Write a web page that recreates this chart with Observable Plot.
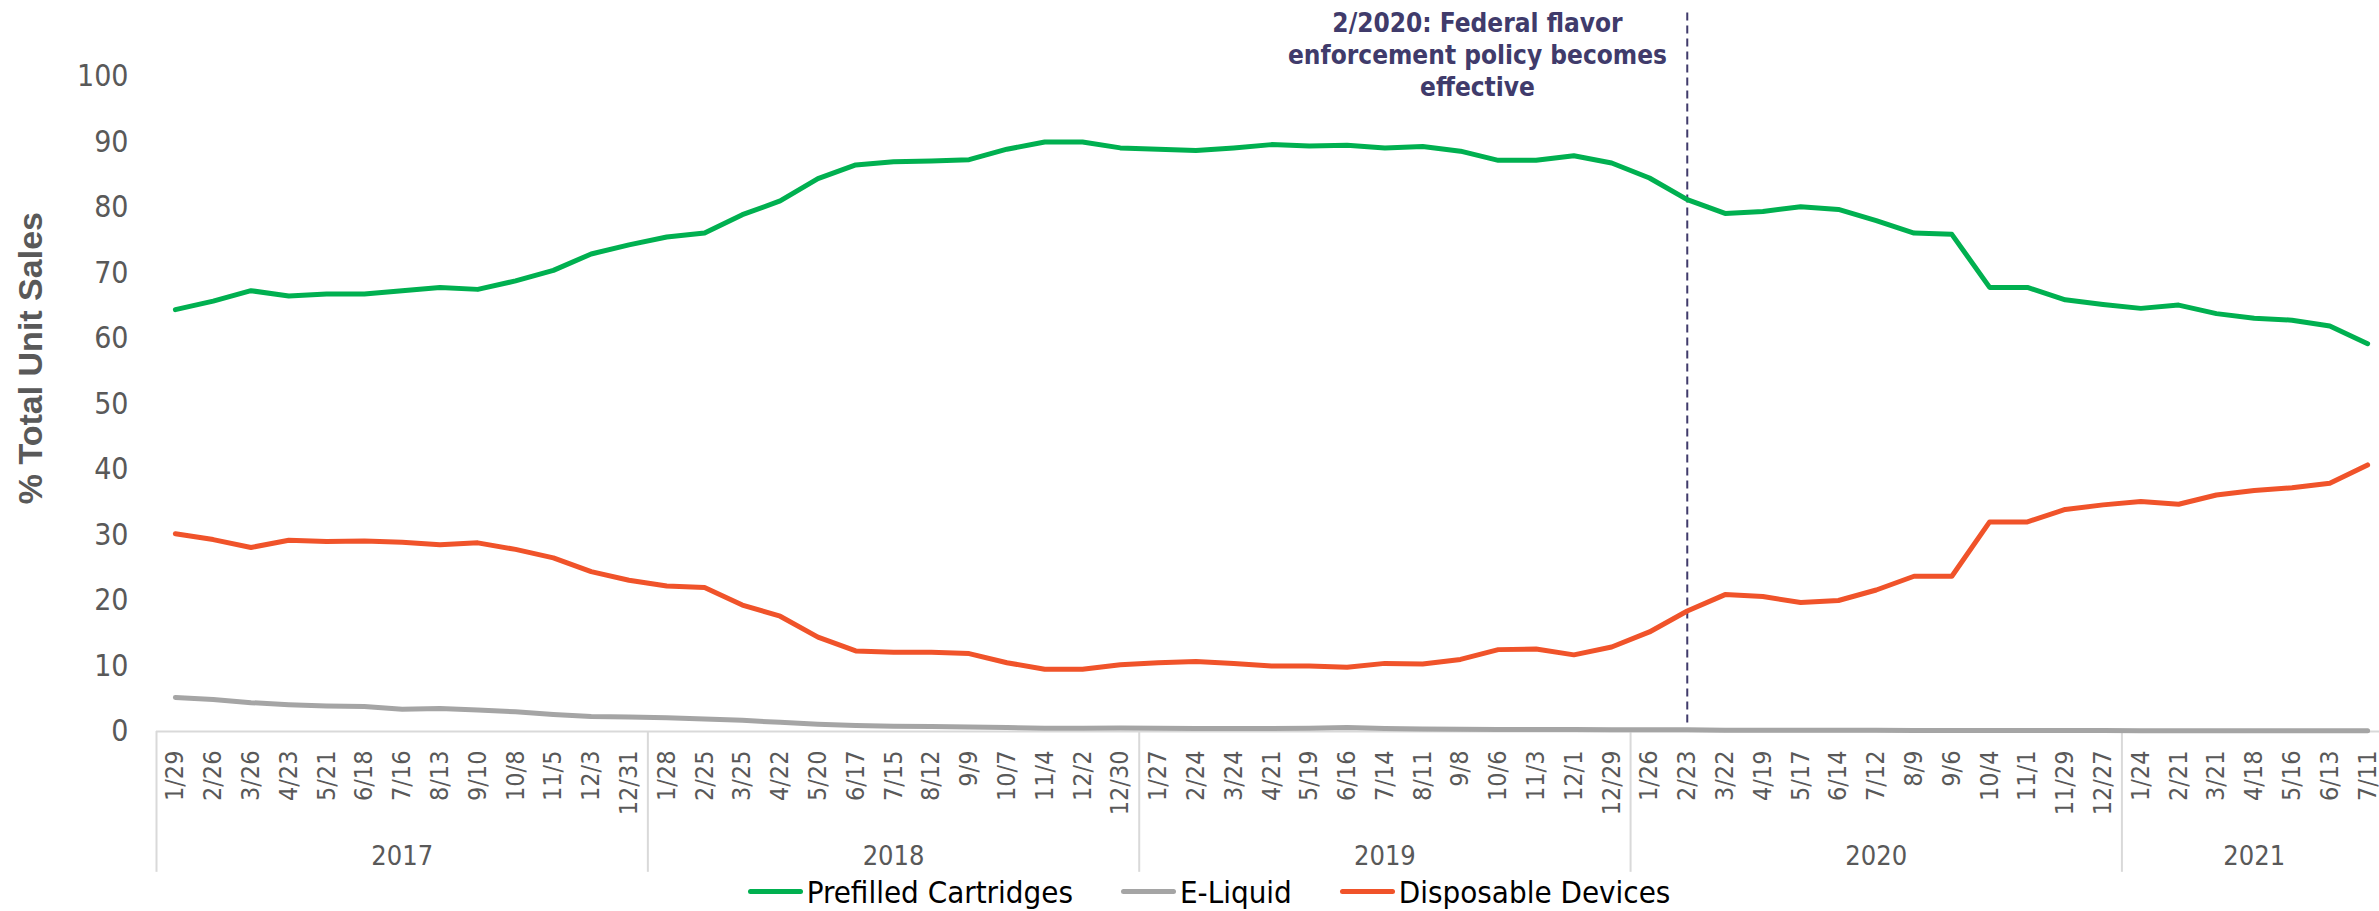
<!DOCTYPE html>
<html>
<head>
<meta charset="utf-8">
<script src="https://cdn.jsdelivr.net/npm/d3@7"></script>
<script src="https://cdn.jsdelivr.net/npm/@observablehq/plot@0.6"></script>
<style>
  body { margin: 0; background: #fff; }
  #chart svg { display: block; }
  #legend {
    display: flex; justify-content: center; align-items: center;
    height: 39px; padding-left: 39px;
    font-family: "DejaVu Sans Condensed", "DejaVu Sans", sans-serif;
    font-size: 31px; color: #000;
  }
  .item { display: flex; align-items: center; margin: 0 24px; }
  .sw { width: 55px; height: 5px; border-radius: 3px; margin-right: 4px; }
</style>
</head>
<body>
<div id="chart"></div>
<div id="legend"></div>
<script>
// ---- data ----
const periodLabels = [
  "1/29","2/26","3/26","4/23","5/21","6/18","7/16","8/13","9/10","10/8","11/5","12/3","12/31",
  "1/28","2/25","3/25","4/22","5/20","6/17","7/15","8/12","9/9","10/7","11/4","12/2","12/30",
  "1/27","2/24","3/24","4/21","5/19","6/16","7/14","8/11","9/8","10/6","11/3","12/1","12/29",
  "1/26","2/23","3/22","4/19","5/17","6/14","7/12","8/9","9/6","10/4","11/1","11/29","12/27",
  "1/24","2/21","3/21","4/18","5/16","6/13","7/11"
];
const yearLabels = ["2017", "2018", "2019", "2020", "2021"];
const yearFirst = [0, 13, 26, 39, 52];
const yearLast = [12, 25, 38, 51, 58];

const prefilled = [
  64.4, 65.7, 67.3, 66.5, 66.8, 66.8, 67.3, 67.8, 67.5, 68.8, 70.4, 72.9, 74.3,
  75.5, 76.1, 78.9, 81.0, 84.4, 86.5, 87.0, 87.1, 87.3, 88.9, 90.0, 90.0, 89.1,
  88.9, 88.7, 89.1, 89.6, 89.4, 89.5, 89.1, 89.3, 88.6, 87.2, 87.2, 87.9, 86.8,
  84.5, 81.2, 79.1, 79.4, 80.1, 79.7, 78.0, 76.1, 75.9, 67.8, 67.8, 65.9, 65.2,
  64.6, 65.1, 63.8, 63.1, 62.8, 61.9, 59.2
];
const eLiquid = [
  5.2, 4.9, 4.4, 4.1, 3.9, 3.8, 3.4, 3.5, 3.3, 3.0, 2.6, 2.3, 2.2,
  2.1, 1.9, 1.7, 1.4, 1.1, 0.9, 0.8, 0.75, 0.7, 0.6, 0.5, 0.5, 0.55,
  0.5, 0.45, 0.45, 0.45, 0.5, 0.6, 0.45, 0.4, 0.35, 0.3, 0.3, 0.3, 0.25,
  0.25, 0.25, 0.2, 0.2, 0.2, 0.2, 0.2, 0.15, 0.15, 0.15, 0.15, 0.15, 0.15,
  0.1, 0.1, 0.1, 0.1, 0.1, 0.1, 0.1
];
const disposable = [
  30.2, 29.3, 28.1, 29.2, 29.0, 29.1, 28.9, 28.5, 28.8, 27.8, 26.5, 24.4, 23.1,
  22.2, 22.0, 19.3, 17.6, 14.4, 12.3, 12.1, 12.1, 11.9, 10.5, 9.5, 9.5, 10.2,
  10.5, 10.7, 10.4, 10.0, 10.0, 9.8, 10.4, 10.3, 11.0, 12.5, 12.6, 11.7, 12.9,
  15.2, 18.4, 20.9, 20.6, 19.7, 20.0, 21.6, 23.7, 23.7, 32.0, 32.0, 33.9, 34.6,
  35.1, 34.7, 36.1, 36.8, 37.2, 37.9, 40.7
];
const yTicks = [0, 10, 20, 30, 40, 50, 60, 70, 80, 90, 100];
const seriesNames = ["Prefilled Cartridges", "E-Liquid", "Disposable Devices"];
const seriesColors = ["#00B050", "#A5A5A5", "#F0532A"];
const policyPeriod = 40; // 2/23 (2020)
const annotation = "2/2020: Federal flavor\nenforcement policy becomes\neffective";
const yTitle = "% Total Unit Sales";

// ---- chart ----
const FONT = '"DejaVu Sans Condensed", "DejaVu Sans", sans-serif';
const n = periodLabels.length;
const idx = d3.range(n);
const rows = vals => vals.map((v, i) => ({i, v}));
const boundaries = yearFirst.map(f => f - 0.5);
const seriesValues = [prefilled, eLiquid, disposable];

const chart = Plot.plot({
  width: 2379,
  height: 872,
  marginLeft: 156,
  marginRight: -7,
  marginTop: 76,
  marginBottom: 141,
  style: {fontFamily: FONT, background: "white", overflow: "visible"},
  x: {type: "linear", domain: [-0.5, n - 0.5]},
  y: {domain: [0, 100]},
  marks: [
    Plot.ruleY([0], {x1: -0.5, x2: n - 0.5, stroke: "#D9D9D9", strokeWidth: 2}),
    Plot.ruleX(boundaries, {x: d => d, y1: 0, y2: -21.5, stroke: "#D9D9D9", strokeWidth: 2}),
    Plot.axisY({ticks: yTicks, tickSize: 0, tickPadding: 28, fontSize: 30, fill: "#595959", label: null}),
    Plot.axisX({ticks: idx, tickFormat: i => periodLabels[i], tickRotate: -90, tickSize: 0, tickPadding: 19,
                fontSize: 25, fill: "#595959", label: null}),
    Plot.text(yearLabels, {x: (d, k) => (yearFirst[k] + yearLast[k]) / 2, y: -19, text: d => d,
                           fontSize: 27, fill: "#595959"}),
    Plot.ruleX([policyPeriod], {x: d => d, y1: 1.3, y2: 110, stroke: "#403B6B", strokeWidth: 2, strokeDasharray: "8,5"}),
    ...seriesValues.map((vals, s) => Plot.line(rows(vals), {
      x: "i", y: "v", stroke: seriesColors[s], strokeWidth: 5, strokeLinejoin: "round", strokeLinecap: "round"
    })),
    Plot.text([annotation], {x: 34.45, y: 103.5, text: d => d, lineAnchor: "middle", lineHeight: 1.23,
                             fontSize: 26, fontWeight: "bold", fill: "#403B6B"}),
    Plot.text([yTitle], {x: -0.5, dx: -125, y: 57, text: d => d, rotate: -90, fontSize: 34,
                         fontWeight: "bold", fill: "#595959", fontFamily: '"Liberation Sans", Arial, sans-serif'})
  ]
});
document.getElementById("chart").appendChild(chart);

// ---- legend ----
const legend = document.getElementById("legend");
seriesNames.forEach((name, s) => {
  const item = document.createElement("div");
  item.className = "item";
  const sw = document.createElement("span");
  sw.className = "sw";
  sw.style.background = seriesColors[s];
  const label = document.createElement("span");
  label.textContent = name;
  item.appendChild(sw);
  item.appendChild(label);
  legend.appendChild(item);
});
</script>
</body>
</html>
